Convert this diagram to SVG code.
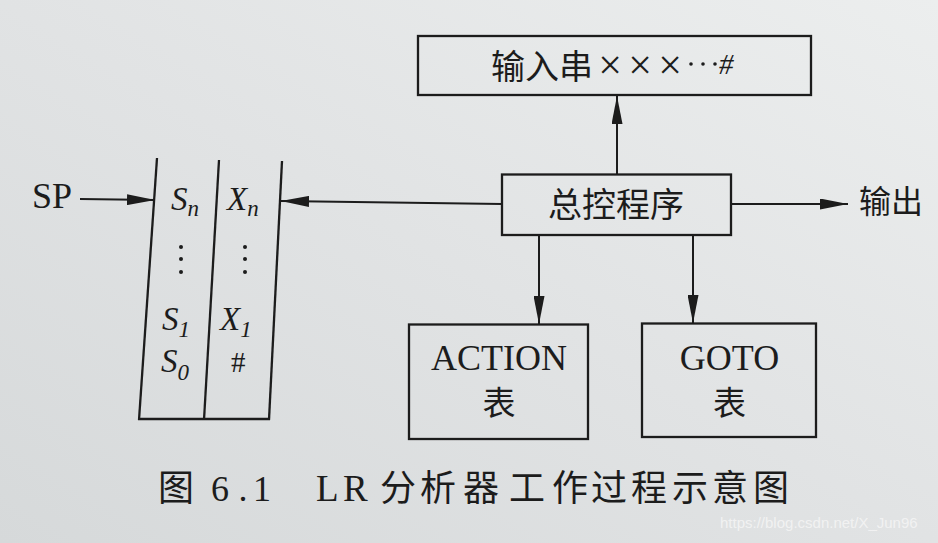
<svg xmlns="http://www.w3.org/2000/svg" width="938" height="543" viewBox="0 0 938 543">
  <defs>
    <linearGradient id="paper" x1="0" y1="1" x2="1" y2="0">
      <stop offset="0" stop-color="#d6d9da"/>
      <stop offset="0.5" stop-color="#e1e3e4"/>
      <stop offset="1" stop-color="#eceeee"/>
    </linearGradient>
    <marker id="ah" viewBox="0 0 28 11" refX="28" refY="5.5" markerWidth="28" markerHeight="11" markerUnits="userSpaceOnUse" orient="auto">
      <path d="M0,0 L28,5.5 L0,11 z" fill="#1c1c1c"/>
    </marker>
  </defs>
  <style>
    .box { fill: none; stroke: #1c1c1c; stroke-width: 2.3; }
    .ln { fill: none; stroke: #1c1c1c; stroke-width: 2; }
    .cn { font-family: "Noto Sans CJK SC", "Noto Sans", sans-serif; fill: #1c1c1c; }
    .sr { font-family: "Liberation Serif", "Times New Roman", serif; fill: #1c1c1c; }
    .it { font-family: "Liberation Serif", "Times New Roman", serif; font-style: italic; fill: #1c1c1c; }
  </style>
  <rect x="0" y="0" width="938" height="543" fill="url(#paper)"/>

  <g id="connectors">
    <line class="ln" x1="80" y1="199" x2="155" y2="200" marker-end="url(#ah)"/>
    <line class="ln" x1="502" y1="204" x2="281" y2="201" marker-end="url(#ah)"/>
    <line class="ln" x1="617" y1="174" x2="617" y2="96" marker-end="url(#ah)"/>
    <line class="ln" x1="731" y1="204" x2="848" y2="204" marker-end="url(#ah)"/>
    <line class="ln" x1="539" y1="235" x2="539" y2="324" marker-end="url(#ah)"/>
    <line class="ln" x1="693" y1="235" x2="693" y2="323" marker-end="url(#ah)"/>
  </g>

  <g id="sp">
    <text class="sr" x="32" y="208" font-size="36">SP</text>
  </g>

  <g id="stack">
    <line class="box" x1="157" y1="158" x2="139" y2="420"/>
    <line class="box" x1="219" y1="160" x2="204" y2="420"/>
    <line class="box" x1="282" y1="161" x2="269" y2="420"/>
    <line class="box" x1="138" y1="419" x2="270" y2="419"/>
    <text class="it" x="171" y="210" font-size="33">S<tspan font-size="23" dy="6">n</tspan></text>
    <text class="it" x="227" y="210" font-size="33">X<tspan font-size="23" dy="6">n</tspan></text>
    <g fill="#1c1c1c">
      <circle cx="181" cy="247" r="2"/>
      <circle cx="181" cy="259" r="2"/>
      <circle cx="181" cy="272" r="2"/>
      <circle cx="245" cy="247" r="2"/>
      <circle cx="245" cy="259" r="2"/>
      <circle cx="245" cy="272" r="2"/>
    </g>
    <text class="it" x="162" y="330" font-size="33">S<tspan font-size="23" dy="7">1</tspan></text>
    <text class="it" x="220" y="330" font-size="33">X<tspan font-size="23" dy="7">1</tspan></text>
    <text class="it" x="161" y="372" font-size="33">S<tspan font-size="23" dy="8">0</tspan></text>
    <text class="sr" x="231" y="372" font-size="29">#</text>
  </g>

  <g id="input">
    <rect class="box" x="418" y="36" width="393" height="59"/>
    <text class="cn" x="491" y="79" font-size="34">输入串</text>
    <text class="sr" font-size="42" text-anchor="middle" y="79"><tspan x="610">×</tspan><tspan x="640">×</tspan><tspan x="670">×</tspan></text>
    <g fill="#1c1c1c">
      <circle cx="691" cy="64" r="1.8"/>
      <circle cx="703" cy="64" r="1.8"/>
      <circle cx="715" cy="64" r="1.8"/>
    </g>
    <text class="sr" x="719" y="74" font-size="29" font-style="italic">#</text>
  </g>

  <g id="control">
    <rect class="box" x="502" y="174.5" width="229" height="60.5"/>
    <text class="cn" x="616" y="217" font-size="34" text-anchor="middle">总控程序</text>
  </g>

  <g id="output">
    <text class="cn" x="859" y="213" font-size="32">输出</text>
  </g>

  <g id="action">
    <rect class="box" x="409" y="324.5" width="179" height="114.5"/>
    <text class="sr" x="499" y="370" font-size="36" text-anchor="middle">ACTION</text>
    <text class="cn" x="499" y="415" font-size="33" text-anchor="middle">表</text>
  </g>

  <g id="goto">
    <rect class="box" x="642" y="323.5" width="174" height="113.5"/>
    <text class="sr" x="729.5" y="370" font-size="36" text-anchor="middle">GOTO</text>
    <text class="cn" x="729.5" y="415" font-size="33" text-anchor="middle">表</text>
  </g>

  <g id="caption">
    <text class="cn" x="158" y="501" font-size="36">图</text>
    <text class="sr" font-size="36" y="501" text-anchor="middle"><tspan x="220">6</tspan><tspan x="243">.</tspan><tspan x="262">1</tspan></text>
    <text class="sr" font-size="37" y="501"><tspan x="316">L</tspan><tspan x="343">R</tspan></text>
    <text class="cn" font-size="36" y="501" x="380 420 463 509 552 591 631 672 712 753">分析器工作过程示意图</text>
  </g>

  <g id="watermark">
    <text x="720" y="528" font-family="Liberation Sans, Arial, sans-serif" font-size="15" fill="#f4f4f4" fill-opacity="0.9">https://blog.csdn.net/X_Jun96</text>
  </g>
</svg>
